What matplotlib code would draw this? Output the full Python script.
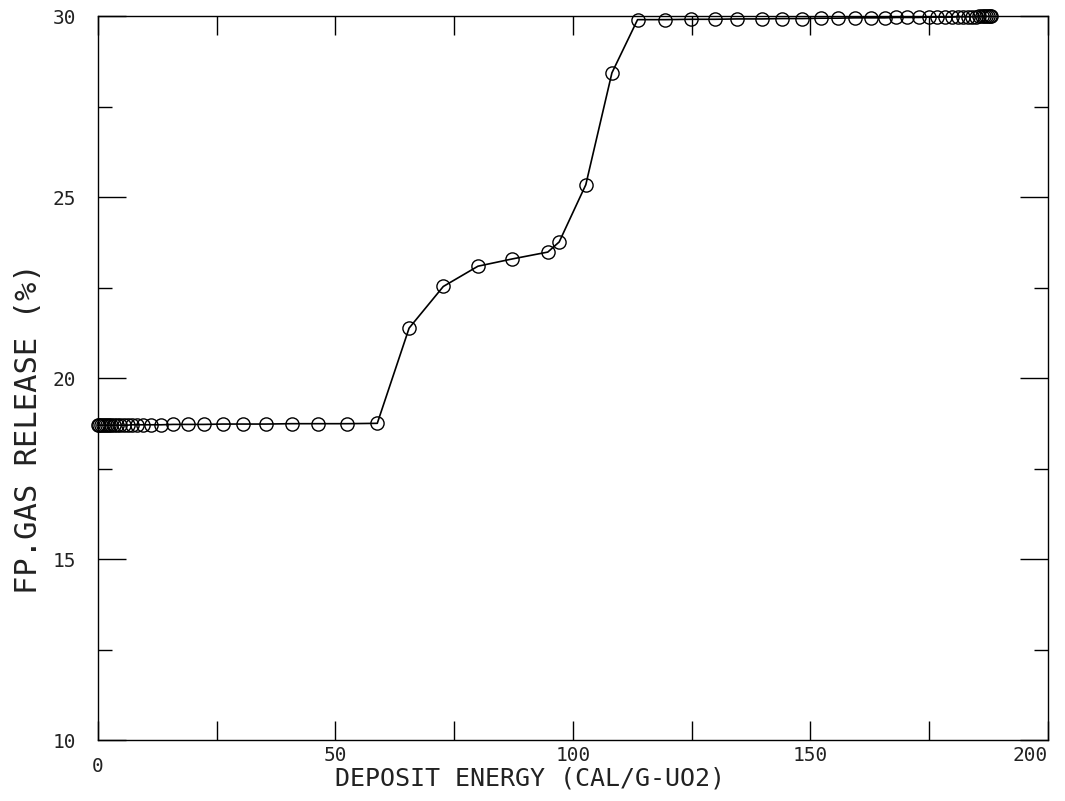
import matplotlib
matplotlib.use('Agg')
from matplotlib import pyplot as plt
from matplotlib.ticker import MultipleLocator

# deposit energy (cal/g-UO2)
energy = [0.0, 0.3, 0.6, 1.0, 1.4, 1.8, 2.3, 2.8, 3.4, 4.0, 4.7, 5.5, 6.3, 7.2, 8.2,
          9.5, 11.2, 13.3, 15.8, 18.9, 22.3, 26.3, 30.5, 35.4, 40.8, 46.3, 52.4, 58.8,
          65.5, 72.7, 80.0, 87.2, 94.7, 97.1, 102.7, 108.2,
          113.6, 119.4, 124.9, 129.8, 134.6, 139.7, 144.1, 148.3, 152.3, 155.7, 159.3,
          162.8, 165.6, 168.1, 170.4, 172.8, 174.9, 176.7, 178.3, 179.7, 181.0, 182.1,
          183.1, 184.0, 184.8, 185.5, 186.1, 186.6, 187.0, 187.4, 187.7, 188.0]

# FP gas release (%)
release = [18.70, 18.70, 18.70, 18.70, 18.70, 18.70, 18.70, 18.70, 18.70, 18.70,
           18.70, 18.70, 18.70, 18.71, 18.71,
           18.71, 18.71, 18.71, 18.72, 18.72, 18.72, 18.73, 18.73, 18.73, 18.74, 18.74,
           18.74, 18.75,
           21.38, 22.53, 23.09, 23.29, 23.48, 23.76, 25.34, 28.43,
           29.90, 29.90, 29.91, 29.91, 29.92, 29.92, 29.93, 29.93, 29.94, 29.94, 29.95,
           29.95, 29.95, 29.96, 29.96, 29.96, 29.97, 29.97, 29.97, 29.97, 29.98, 29.98,
           29.98, 29.98, 29.98, 29.99, 29.99, 29.99, 29.99, 29.99, 29.99, 29.99]

x_ticks = [0, 50, 100, 150, 200]
x_ticklabels = ['0', '50', '100', '150', '200']
y_ticks = [10, 15, 20, 25, 30]

plt.rcParams['font.family'] = ['DejaVu Sans Mono']

fig = plt.figure(figsize=(10.65, 8.01), dpi=100)
ax = fig.add_axes([0.092, 0.076, 0.892, 0.904])

ax.plot(energy, release, color='black', lw=1.2, marker='o', ms=9.5,
        mfc='none', mec='black', mew=1.0, clip_on=False)

ax.set_xlim(0, 200)
ax.set_ylim(10, 30)

ax.set_xticks(x_ticks)
ax.set_xticklabels(x_ticklabels)
ax.set_yticks(y_ticks)
ax.xaxis.set_minor_locator(MultipleLocator(25))
ax.yaxis.set_minor_locator(MultipleLocator(2.5))

ax.tick_params(which='both', direction='in', top=True, right=True,
               labelsize=14, width=1.0, color='black', labelcolor='#222222')
ax.tick_params(axis='x', which='major', length=14, pad=4)
ax.tick_params(axis='x', which='minor', length=14)
ax.tick_params(axis='y', which='major', length=20, pad=16)
ax.tick_params(axis='y', which='minor', length=10)

xlabs = ax.get_xticklabels()
xlabs[-1].set_horizontalalignment('right')
xlabs[0].set_y(-0.016)

for sp in ax.spines.values():
    sp.set_linewidth(1.0)

ax.set_xlabel('DEPOSIT ENERGY (CAL/G-UO2)', fontsize=18, color='#222222')
ax.xaxis.set_label_coords(0.455, -0.037)
ax.set_ylabel('FP.GAS RELEASE (%)', fontsize=22, color='#222222')
ax.yaxis.set_label_coords(-0.058, 0.43)

fig.savefig('out.png', dpi=100)
